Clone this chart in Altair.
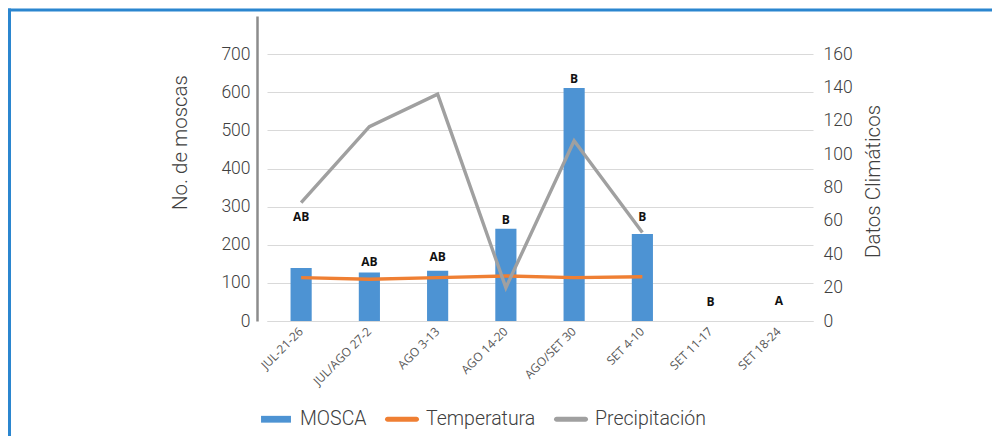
import altair as alt
import pandas as pd

categorias = ["JUL-21-26", "JUL/AGO 27-2", "AGO 3-13", "AGO 14-20",
              "AGO/SET 30", "SET 4-10", "SET 11-17", "SET 18-24"]
mosca = [139, 127, 132, 242, 611, 228, 0, 0]
temperatura = [26, 25, 26, 27, 26, 26.5, None, None]
precipitacion = [71, 116.5, 136, 20, 108, 53, None, None]
letras = ["AB", "AB", "AB", "B", "B", "B", "B", "A"]
letras_y = [273, 155, 168, 265, 634, 273, 51, 53]
series = ["MOSCA", "Temperatura", "Precipitación"]
colores = ["#4d93d3", "#ef7f33", "#a0a0a0"]

bars_df = pd.DataFrame({"cat": categorias, "mosca": mosca,
                        "letra": letras, "ly": letras_y})
rows = []
for c, t, p in zip(categorias, temperatura, precipitacion):
    if t is not None:
        rows.append({"cat": c, "serie": "Temperatura", "valor": t})
    if p is not None:
        rows.append({"cat": c, "serie": "Precipitación", "valor": p})
lines_df = pd.DataFrame(rows)
legend_df = pd.DataFrame({"serie": series})

FONT = "Roboto"
xscale = alt.Scale(domain=categorias, paddingInner=0.69, paddingOuter=0.345)
x_enc = alt.X("cat:N", sort=categorias, scale=xscale, title=None,
              axis=alt.Axis(labelAngle=-45, labelAlign="right", labelBaseline="middle",
                            labelFont="Open Sans", labelFontSize=12, labelColor="#595959",
                            labelPadding=8, ticks=False, domainColor="#d9d9d9",
                            domainWidth=1, grid=False, labelOverlap=False))
left_scale = alt.Scale(domain=[0, 800], nice=False)
right_scale = alt.Scale(domain=[0, 160 * 800 / 700], nice=False)

left_axis = alt.Axis(values=[0, 100, 200, 300, 400, 500, 600, 700], offset=10,
                     ticks=False, domainColor="#8c8c8c", domainWidth=2.5,
                     gridColor="#d9d9d9", gridWidth=1,
                     labelFont=FONT, labelFontWeight=300, labelFontSize=17.5,
                     labelColor="#404040", labelPadding=7,
                     titleFont=FONT, titleFontWeight=300, titleFontSize=20.5,
                     titleColor="#404040", titleX=-77, titleY=126,
                     titleAngle=270, titleBaseline="middle", titleAlign="center")

base = alt.Chart(bars_df).encode(x=x_enc)
bars = base.mark_bar(color=colores[0]).encode(
    y=alt.Y("mosca:Q", scale=left_scale, title="No. de moscas", axis=left_axis),
)
labels = base.mark_text(font="Open Sans", fontWeight="bold", fontSize=12,
                        color="#111111", baseline="middle").encode(
    y=alt.Y("ly:Q", scale=left_scale, title="No. de moscas", axis=left_axis),
    text="letra:N",
)

rect_path = "M-0.88,-0.2H0.88V0.2H-0.88Z"
line_path = ("M-0.85,-0.15H0.85A0.15,0.15 0 0 1 0.85,0.15H-0.85"
             "A0.15,0.15 0 0 1 -0.85,-0.15Z")
legend_layer = alt.Chart(legend_df).mark_point(filled=True, opacity=1).encode(
    color=alt.Color("serie:N", scale=alt.Scale(domain=series, range=colores),
                    sort=series,
                    legend=alt.Legend(title=None, orient="none", legendX=-8, legendY=386,
                                      direction="horizontal", symbolSize=1156,
                                      symbolStrokeWidth=0, labelFont=FONT,
                                      labelFontWeight=300, labelFontSize=19.5,
                                      labelColor="#404040", labelOffset=7,
                                      columnPadding=18)),
    shape=alt.Shape("serie:N", scale=alt.Scale(domain=series,
                                               range=[rect_path, line_path, line_path]),
                    sort=series),
).transform_filter("false")

left = alt.layer(bars, labels, legend_layer)

lines = alt.Chart(lines_df).mark_line(strokeWidth=3.4, strokeJoin="miter").encode(
    x=alt.X("cat:N", sort=categorias, scale=xscale),
    y=alt.Y("valor:Q", scale=right_scale, title="Datos Climáticos",
            axis=alt.Axis(orient="right", values=[0, 20, 40, 60, 80, 100, 120, 140, 160],
                          ticks=False, domain=False, grid=False,
                          labelFont=FONT, labelFontWeight=300, labelFontSize=17.5,
                          labelColor="#404040", labelPadding=10,
                          titleFont=FONT, titleFontWeight=300, titleFontSize=20.5,
                          titleColor="#404040", titleX=60, titleY=165,
                          titleAngle=270, titleBaseline="middle", titleAlign="center")),
    stroke=alt.Stroke("serie:N", scale=alt.Scale(domain=["Temperatura", "Precipitación"],
                                                 range=[colores[1], colores[2]]),
                      legend=None),
)

border_df = pd.DataFrame({"k": [0]})
border_top = alt.Chart(border_df).mark_rule(color="#2b86cf", strokeWidth=3).encode(
    x=alt.value(-259), x2=alt.value(725), y=alt.value(-6))
border_left = alt.Chart(border_df).mark_rule(color="#2b86cf", strokeWidth=3).encode(
    x=alt.value(-257.5), y=alt.value(-7.5), y2=alt.value(420))

chart = alt.layer(left, lines, border_top, border_left).resolve_scale(
    y="independent"
).properties(
    width=546, height=305,
    autosize=alt.AutoSizeParams(type="none"),
    padding={"left": 259, "top": 8, "right": 179, "bottom": 117},
).configure_view(stroke=None)

chart.save("out.html", embed_options={"renderer": "svg", "actions": False})
